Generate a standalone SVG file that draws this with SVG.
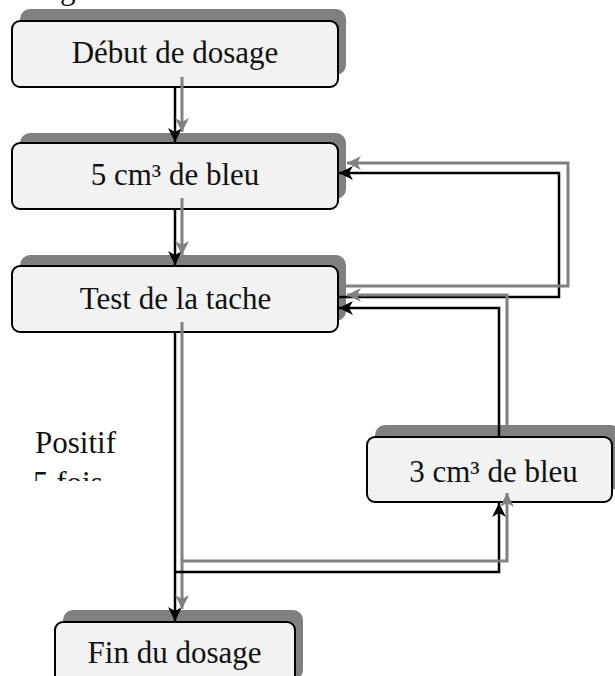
<svg xmlns="http://www.w3.org/2000/svg" width="615" height="676" viewBox="0 0 615 676">
<style>
.shadow{fill:#808080;}
.box{fill:#f2f2f2;stroke:#000;stroke-width:2;}
.lbl{font-family:"Liberation Serif","DejaVu Serif",serif;font-size:31px;fill:#111;text-anchor:middle;}
.free{font-family:"Liberation Serif","DejaVu Serif",serif;font-size:31px;fill:#111;}
.blk{fill:none;stroke:#000;stroke-width:2.5;}
.gry{fill:none;stroke:#808080;stroke-width:3;}
</style>
<defs>
<marker id="ab" viewBox="-15 -8 16 16" refX="0" refY="0" markerWidth="16" markerHeight="16" markerUnits="userSpaceOnUse" orient="auto">
<path d="M-14,-7 L0,0 L-14,7 L-10,0 Z" fill="#000"/>
</marker>
<marker id="ag" viewBox="-15 -8 16 16" refX="0" refY="0" markerWidth="16" markerHeight="16" markerUnits="userSpaceOnUse" orient="auto">
<path d="M-14,-7 L0,0 L-14,7 L-10,0 Z" fill="#808080"/>
</marker>
<clipPath id="clipfois"><rect x="0" y="0" width="200" height="481"/></clipPath>
</defs>
<text class="free" x="60" y="-1.5">g</text>
<g id="n1">
<rect class="shadow" x="20" y="9" width="326" height="66" rx="10"/>
<rect class="box" x="12" y="21" width="326" height="66" rx="8"/>
<text class="lbl" x="175" y="63">Début de dosage</text>
</g>
<g id="n2">
<rect class="shadow" x="20" y="133" width="326" height="66" rx="10"/>
<rect class="box" x="12" y="143" width="326" height="66" rx="8"/>
<text class="lbl" x="175" y="185">5 cm³ de bleu</text>
</g>
<g id="n3">
<rect class="shadow" x="20" y="255" width="326" height="66" rx="10"/>
<rect class="box" x="12" y="266" width="326" height="66" rx="8"/>
<text class="lbl" x="175.5" y="309">Test de la tache</text>
</g>
<g id="n4">
<rect class="shadow" x="375" y="425" width="245" height="65" rx="10"/>
<rect class="box" x="367" y="437" width="245" height="65" rx="8"/>
<text class="lbl" x="493.5" y="482">3 cm³ de bleu</text>
</g>
<g id="n5">
<rect class="shadow" x="63" y="610" width="240" height="70" rx="10"/>
<rect class="box" x="55" y="622" width="240" height="70" rx="8"/>
<text class="lbl" x="174.5" y="663">Fin du dosage</text>
</g>
<g id="labels">
<text class="free" x="35" y="453">Positif</text>
<text class="free" x="33" y="493" clip-path="url(#clipfois)">5 fois</text>
</g>
<g id="connectors">
<line class="blk" x1="175" y1="87" x2="175" y2="142" marker-end="url(#ab)"/>
<line class="gry" x1="182" y1="77" x2="182" y2="132" marker-end="url(#ag)"/>
<line class="blk" x1="175" y1="209" x2="175" y2="265" marker-end="url(#ab)"/>
<line class="gry" x1="182" y1="198" x2="182" y2="255" marker-end="url(#ag)"/>
<line class="blk" x1="175" y1="332" x2="175" y2="621" marker-end="url(#ab)"/>
<line class="gry" x1="182" y1="322" x2="182" y2="609" marker-end="url(#ag)"/>
<polyline class="blk" points="175,572 499,572 499,503" marker-end="url(#ab)"/>
<polyline class="gry" points="182,561 507,561 507,493" marker-end="url(#ag)"/>
<polyline class="blk" points="338,297 559,297 559,173 339,173" marker-end="url(#ab)"/>
<polyline class="gry" points="345,286 568,286 568,163 347,163" marker-end="url(#ag)"/>
<polyline class="blk" points="499,437 499,308 339,308" marker-end="url(#ab)"/>
<polyline class="gry" points="507,425 507,295 347,295" marker-end="url(#ag)"/>
</g>
</svg>
